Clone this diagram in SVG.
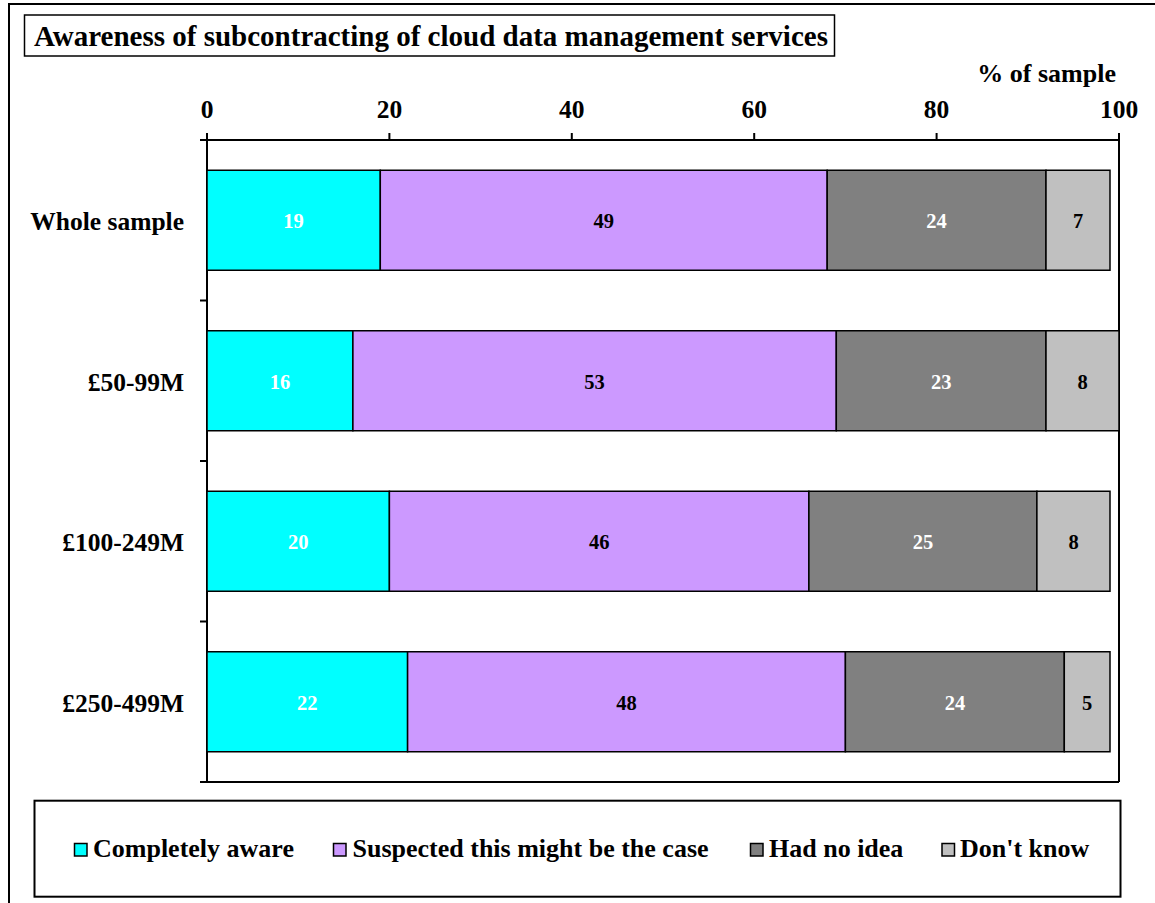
<svg xmlns="http://www.w3.org/2000/svg" width="1155" height="903" viewBox="0 0 1155 903">
<style>
text{font-family:'Liberation Serif','DejaVu Serif',serif;font-weight:700;fill:#000}
.title{font-size:29px}
.ax{font-size:25.5px;text-anchor:middle}
.cat{font-size:25.5px;text-anchor:end}
.lbl{font-size:20.5px;text-anchor:middle}
.w{fill:#fff}
.leg{font-size:26px}
.seg{stroke:#000;stroke-width:1.5}
.c1{fill:#00FFFF}.c2{fill:#CC99FF}.c3{fill:#808080}.c4{fill:#C0C0C0}
.ln{stroke:#000;stroke-width:2;fill:none}
</style>
<rect x="0" y="0" width="1155" height="903" fill="#fff"/>
<rect x="9" y="4" width="1160" height="920" fill="none" stroke="#000" stroke-width="2"/>
<g id="title">
<rect x="24.5" y="15" width="810" height="41" fill="#fff" stroke="#000" stroke-width="1.5"/>
<text class="title" x="34" y="45.5">Awareness of subcontracting of cloud data management services</text>
</g>
<g id="axes">
<path class="ln" d="M207,133V782M1119,133V782M200,140H1119M200,782H1119M200,300.5H207M200,461H207M200,621.5H207M389.4,133V140M571.8,133V140M754.2,133V140M936.6,133V140"/>
<text class="ax" x="207" y="118">0</text>
<text class="ax" x="389.4" y="118">20</text>
<text class="ax" x="571.8" y="118">40</text>
<text class="ax" x="754.2" y="118">60</text>
<text class="ax" x="936.6" y="118">80</text>
<text class="ax" x="1119" y="118">100</text>
<text class="ax" x="1116" y="82" style="text-anchor:end;font-size:26px">% of sample</text>
</g>
<g id="row-whole">
<text class="cat" x="184" y="230">Whole sample</text>
<rect class="seg c1" x="207" y="170.25" width="173.3" height="100"/>
<rect class="seg c2" x="380.3" y="170.25" width="446.9" height="100"/>
<rect class="seg c3" x="827.2" y="170.25" width="218.8" height="100"/>
<rect class="seg c4" x="1046" y="170.25" width="64" height="100"/>
<text class="lbl w" x="293.6" y="228">19</text>
<text class="lbl" x="603.7" y="228">49</text>
<text class="lbl w" x="936.6" y="228">24</text>
<text class="lbl" x="1078" y="228">7</text>
</g>
<g id="row-50-99">
<text class="cat" x="184" y="390.5">£50-99M</text>
<rect class="seg c1" x="207" y="330.75" width="145.9" height="100"/>
<rect class="seg c2" x="352.9" y="330.75" width="483.4" height="100"/>
<rect class="seg c3" x="836.3" y="330.75" width="209.7" height="100"/>
<rect class="seg c4" x="1046" y="330.75" width="73" height="100"/>
<text class="lbl w" x="280" y="388.5">16</text>
<text class="lbl" x="594.6" y="388.5">53</text>
<text class="lbl w" x="941.2" y="388.5">23</text>
<text class="lbl" x="1082.5" y="388.5">8</text>
</g>
<g id="row-100-249">
<text class="cat" x="184" y="551">£100-249M</text>
<rect class="seg c1" x="207" y="491.25" width="182.4" height="100"/>
<rect class="seg c2" x="389.4" y="491.25" width="419.5" height="100"/>
<rect class="seg c3" x="808.9" y="491.25" width="228" height="100"/>
<rect class="seg c4" x="1036.9" y="491.25" width="73.1" height="100"/>
<text class="lbl w" x="298.2" y="549">20</text>
<text class="lbl" x="599.2" y="549">46</text>
<text class="lbl w" x="922.9" y="549">25</text>
<text class="lbl" x="1073.5" y="549">8</text>
</g>
<g id="row-250-499">
<text class="cat" x="184" y="711.5">£250-499M</text>
<rect class="seg c1" x="207" y="651.75" width="200.6" height="100"/>
<rect class="seg c2" x="407.6" y="651.75" width="437.8" height="100"/>
<rect class="seg c3" x="845.4" y="651.75" width="218.9" height="100"/>
<rect class="seg c4" x="1064.3" y="651.75" width="45.7" height="100"/>
<text class="lbl w" x="307.3" y="709.5">22</text>
<text class="lbl" x="626.5" y="709.5">48</text>
<text class="lbl w" x="954.9" y="709.5">24</text>
<text class="lbl" x="1087.2" y="709.5">5</text>
</g>
<g id="legend">
<rect x="34.5" y="800.7" width="1086" height="96" fill="#fff" stroke="#000" stroke-width="2"/>
<rect class="seg c1" x="74.5" y="843.5" width="12.5" height="12.5"/>
<text class="leg" x="93" y="857">Completely aware</text>
<rect class="seg c2" x="333.5" y="843.5" width="12.5" height="12.5"/>
<text class="leg" x="352.5" y="857">Suspected this might be the case</text>
<rect class="seg c3" x="750.5" y="843.5" width="12.5" height="12.5"/>
<text class="leg" x="769" y="857">Had no idea</text>
<rect class="seg c4" x="942" y="843.5" width="12.5" height="12.5"/>
<text class="leg" x="960" y="857">Don't know</text>
</g>
</svg>
